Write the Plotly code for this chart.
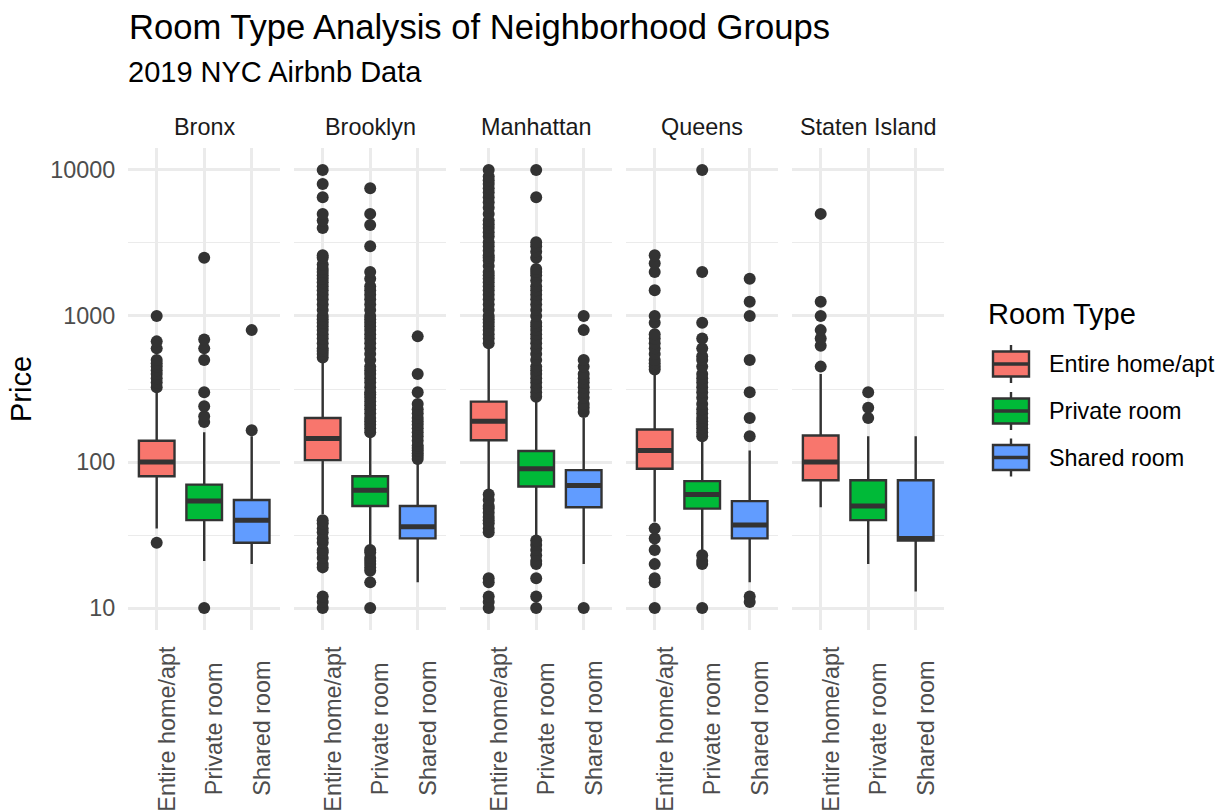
import plotly.graph_objects as go

# ---- data -------------------------------------------------------------
groups = ["Bronx", "Brooklyn", "Manhattan", "Queens", "Staten Island"]
room_types = ["Entire home/apt", "Private room", "Shared room"]
colors = ["#F8766D", "#00BA38", "#619CFF"]

# box statistics per group (rows) and room type (columns)
q1 = [[80, 40, 28], [103, 50, 30], [141, 68, 49], [90, 48, 30], [75, 40, 29]]
median = [[100, 54, 40], [145, 64, 36], [190, 90, 69], [120, 60, 37], [100, 50, 30]]
q3 = [[140, 70, 55], [200, 80, 50], [259, 119, 88], [167, 74, 54], [152, 75, 75]]
lower = [[35, 21, 20], [44, 26, 15], [64, 30, 20], [39, 25, 15], [49, 20, 13]]
upper = [[300, 160, 150], [500, 155, 100], [600, 275, 200], [400, 143, 120], [400, 150, 150]]

# outlying prices per group and room type
bronx_out = [
    [28, 325, 350, 375, 400, 425, 450, 475, 500, 600, 670, 1000],
    [10, 188, 206, 241, 300, 500, 600, 690, 2500],
    [165, 800],
]
brooklyn_out = [
    [10, 11, 12, 19, 20, 22, 24, 25, 28, 30, 33, 35, 38, 40,
     520, 550, 575, 600, 650, 700, 750, 800, 850, 900, 950, 1000, 1100, 1200,
     1300, 1400, 1500, 1600, 1700, 1800, 1900, 2000, 2100, 2250, 2500, 2600,
     4000, 4500, 5000, 6500, 8000, 10000],
    [10, 15, 18, 19, 20, 21, 22, 24, 25,
     160, 170, 180, 190, 200, 215, 230, 245, 260, 275, 290, 300, 325, 350, 375,
     400, 425, 450, 500, 550, 600, 650, 700, 750, 800, 850, 900, 950, 1000,
     1100, 1200, 1300, 1400, 1500, 1600, 1800, 2000, 3000, 4200, 5000, 7500],
    [105, 110, 115, 120, 125, 130, 140, 150, 160, 170, 180, 190, 200, 215,
     230, 250, 300, 400, 725],
]
manhattan_out = [
    [10, 11, 12, 15, 16, 33, 35, 38, 40, 42, 45, 48, 50, 55, 60,
     650, 700, 750, 800, 850, 900, 950, 1000, 1100, 1200, 1300, 1400, 1500,
     1600, 1700, 1800, 1900, 2000, 2200, 2400, 2500, 2600, 2800, 3000, 3200,
     3500, 3750, 4000, 4250, 4500, 5000, 5500, 6000, 6500, 7000, 7500, 8000,
     8500, 9000, 10000],
    [10, 12, 16, 20, 21, 23, 25, 27, 29,
     280, 300, 325, 350, 375, 400, 425, 450, 500, 550, 600, 650, 700, 750,
     800, 850, 900, 1000, 1100, 1200, 1300, 1400, 1500, 1600, 1750, 1900,
     2000, 2100, 2500, 2750, 3000, 3200, 6500, 10000],
    [10, 220, 235, 250, 275, 300, 325, 350, 375, 400, 450, 500, 800, 1000],
]
queens_out = [
    [10, 15, 16, 20, 25, 30, 35, 430, 450, 475, 500, 550, 600, 650, 700, 750,
     900, 1000, 1500, 2000, 2300, 2600],
    [10, 20, 21, 23, 150, 160, 170, 180, 190, 200, 215, 230, 250, 275, 300,
     325, 350, 375, 400, 450, 500, 530, 600, 700, 900, 2000, 10000],
    [11, 12, 150, 200, 300, 500, 1000, 1250, 1800],
]
staten_out = [
    [450, 625, 700, 800, 1000, 1250, 5000],
    [200, 235, 300],
    [],
]
outliers = [bronx_out, brooklyn_out, manhattan_out, queens_out, staten_out]

# ---- layout geometry (pixels on a 1225 x 811 canvas) -------------------
W, H = 1225, 811
INK = "#333333"
GRID = "#EBEBEB"
FONT = "Liberation Sans"


def px(x):
    return x / W


def py(y):
    return 1 - y / H


panel_left0, panel_w, panel_step = 128.2, 152.0, 166.0
plot_top, plot_bottom = 148, 630

fig = go.Figure()
box_w = 0.75
annotations = []

for g, grp in enumerate(groups):
    ax = "" if g == 0 else str(g + 1)
    for r, room in enumerate(room_types):
        pos = r + 1
        fig.add_trace(go.Box(
            x=[pos], q1=[q1[g][r]], median=[median[g][r]], q3=[q3[g][r]],
            lowerfence=[lower[g][r]], upperfence=[upper[g][r]],
            width=box_w, whiskerwidth=0, boxpoints=False,
            fillcolor=colors[r], line=dict(color=INK, width=2.4),
            xaxis="x" + ax, yaxis="y" + ax, showlegend=False, hoverinfo="skip",
        ))
        # heavier median bar
        fig.add_trace(go.Scatter(
            x=[pos - box_w / 2, pos + box_w / 2], y=[median[g][r]] * 2,
            mode="lines", line=dict(color=INK, width=5),
            xaxis="x" + ax, yaxis="y" + ax, showlegend=False, hoverinfo="skip",
        ))
        pts = outliers[g][r]
        if pts:
            fig.add_trace(go.Scatter(
                x=[pos] * len(pts), y=pts, mode="markers",
                marker=dict(color=INK, size=12, line=dict(width=0)),
                xaxis="x" + ax, yaxis="y" + ax, showlegend=False, hoverinfo="skip",
            ))
        # category label, vertical, hanging just right of its grid line
        annotations.append(dict(
            text=room, x=pos, y=py(728.5), xref="x" + ax, yref="paper",
            xanchor="center", yanchor="middle", textangle=-90, xshift=9.5,
            showarrow=False,
            font=dict(family=FONT, size=23.4, color="#4D4D4D"),
        ))

    left = panel_left0 + g * panel_step
    xa = dict(
        domain=[px(left), px(left + panel_w)], range=[0.4, 3.6],
        tickvals=[1, 2, 3], showticklabels=False,
        showgrid=True, gridcolor=GRID, gridwidth=2.6, zeroline=False,
        showline=False, ticks="", anchor="y" + ax, fixedrange=True,
    )
    ya = dict(
        type="log", range=[0.85, 4.15], domain=[py(plot_bottom), py(plot_top)],
        tickvals=[10, 100, 1000, 10000], ticktext=["10", "100", "1000", "10000"],
        tickfont=dict(family=FONT, size=23.4, color="#4D4D4D"),
        showgrid=True, gridcolor=GRID, gridwidth=2.6, zeroline=False,
        showline=False, ticks="", ticklabelstandoff=12,
        showticklabels=(g == 0), anchor="x" + ax, fixedrange=True,
        minor=dict(tickvals=[31.62, 316.2, 3162], showgrid=True,
                   gridcolor=GRID, gridwidth=1.3, ticks=""),
    )
    if g > 0:
        ya["matches"] = "y"
    fig.layout["xaxis" + ax] = xa
    fig.layout["yaxis" + ax] = ya

# facet strip labels
for g, grp in enumerate(groups):
    cx = panel_left0 + g * panel_step + panel_w / 2
    annotations.append(dict(
        text=grp, x=px(cx), y=py(127), xref="paper", yref="paper",
        xanchor="center", yanchor="middle", showarrow=False,
        font=dict(family=FONT, size=23.4, color="#1A1A1A"),
    ))

# titles
annotations.append(dict(
    text="Room Type Analysis of Neighborhood Groups", x=px(127), y=py(27),
    xref="paper", yref="paper", xanchor="left", yanchor="middle",
    showarrow=False, font=dict(family=FONT, size=34.6, color="#000000"),
))
annotations.append(dict(
    text="2019 NYC Airbnb Data", x=px(126), y=py(72),
    xref="paper", yref="paper", xanchor="left", yanchor="middle",
    showarrow=False, font=dict(family=FONT, size=29, color="#000000"),
))
annotations.append(dict(
    text="Price", x=px(21), y=py(389), xref="paper", yref="paper",
    xanchor="center", yanchor="middle", textangle=-90, showarrow=False,
    font=dict(family=FONT, size=29, color="#000000"),
))

# legend
annotations.append(dict(
    text="Room Type", x=px(986), y=py(314), xref="paper", yref="paper",
    xanchor="left", yanchor="middle", showarrow=False,
    font=dict(family=FONT, size=29, color="#000000"),
))
shapes = []
key_centers = [364, 411, 457.5]
for room, col, cy in zip(room_types, colors, key_centers):
    kx0, kx1 = 993, 1029
    kxm = (kx0 + kx1) / 2
    shapes.append(dict(type="line", xref="paper", yref="paper",
                       x0=px(kxm), x1=px(kxm), y0=py(cy - 19), y1=py(cy + 19),
                       line=dict(color=INK, width=2.4)))
    shapes.append(dict(type="rect", xref="paper", yref="paper",
                       x0=px(kx0), x1=px(kx1), y0=py(cy - 12.5), y1=py(cy + 12.5),
                       fillcolor=col, line=dict(color=INK, width=2.4)))
    shapes.append(dict(type="line", xref="paper", yref="paper",
                       x0=px(kx0), x1=px(kx1), y0=py(cy), y1=py(cy),
                       line=dict(color=INK, width=3.5)))
    annotations.append(dict(
        text=room, x=px(1047), y=py(cy), xref="paper", yref="paper",
        xanchor="left", yanchor="middle", showarrow=False,
        font=dict(family=FONT, size=23.4, color="#000000"),
    ))

fig.update_layout(
    width=W, height=H, margin=dict(l=0, r=0, t=0, b=0),
    paper_bgcolor="white", plot_bgcolor="white",
    annotations=annotations, shapes=shapes, showlegend=False,
    font=dict(family=FONT),
)

fig.write_html("out.html")
